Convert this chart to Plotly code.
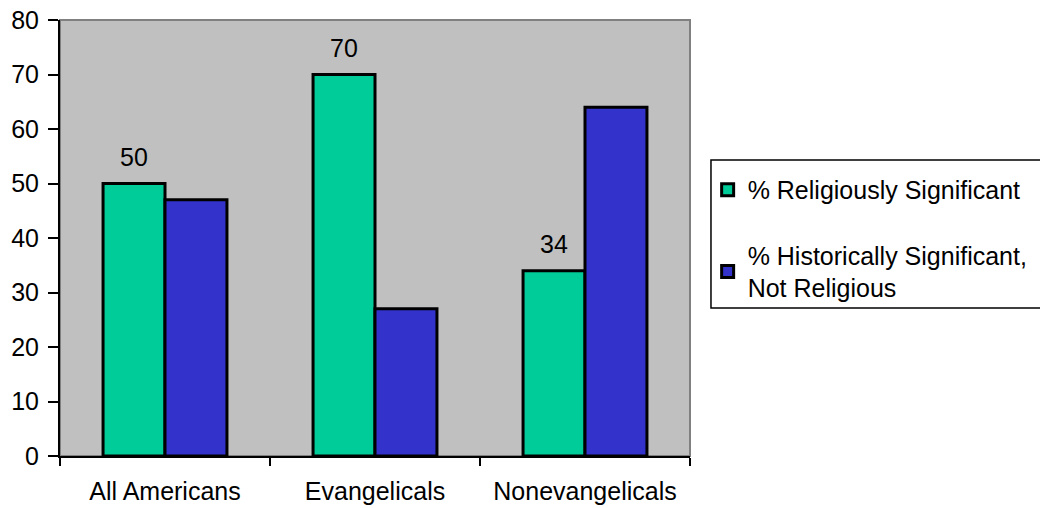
import plotly.graph_objects as go

# Survey results by group (percent)
groups = ["All Americans", "Evangelicals", "Nonevangelicals"]
religious = [50, 70, 34]
historical = [47, 27, 64]
series_names = ["% Religiously Significant", "% Historically Significant,<br>Not Religious"]

FONT = "Liberation Sans, Arial, sans-serif"
FS = 25

fig = go.Figure()
fig.add_trace(go.Bar(
    x=groups, y=religious, name=series_names[0], legendgroup="a",
    marker=dict(color="#00CC99", line=dict(color="black", width=3)),
))
fig.add_trace(go.Bar(
    x=groups, y=historical, name=series_names[1], legendgroup="b",
    marker=dict(color="#3333CC", line=dict(color="black", width=3)),
))

# value labels above the first series
for g, v in zip(groups, religious):
    fig.add_annotation(
        x=g, y=v, text=str(v), showarrow=False, xshift=-31, yshift=11,
        yanchor="bottom", font=dict(size=FS, color="black", family=FONT),
    )

# grey frame on the top and right of the plotting area
fig.add_shape(type="rect", xref="paper", yref="paper", x0=0, y0=0, x1=1, y1=1,
              line=dict(color="#808080", width=2), layer="below")

# legend frame
fig.add_shape(type="rect", xref="paper", yref="paper",
              x0=1.0333, y0=0.3394, x1=1.5635, y1=0.6789,
              line=dict(color="black", width=1.5), fillcolor="white", layer="below")

fig.update_layout(
    width=1040, height=508,
    margin=dict(l=60, r=350, t=20, b=52, autoexpand=False),
    paper_bgcolor="white", plot_bgcolor="#C0C0C0",
    barmode="group", bargap=0.41, bargroupgap=0,
    font=dict(family=FONT, size=FS, color="black"),
    showlegend=True,
    legend=dict(
        x=1.028, y=0.663, xanchor="left", yanchor="top",
        bgcolor="rgba(0,0,0,0)", borderwidth=0,
        font=dict(size=FS, family=FONT, color="black"),
        tracegroupgap=30, traceorder="grouped",
        itemwidth=30,
    ),
    xaxis=dict(
        showline=True, linecolor="black", linewidth=2,
        ticks="outside", tickson="boundaries", ticklen=8, tickcolor="black", tickwidth=1.5,
        tickfont=dict(size=FS, family=FONT), showgrid=False,
        ticklabelstandoff=12,
    ),
    yaxis=dict(
        range=[0, 80], dtick=10, showline=True, linecolor="black", linewidth=2,
        ticks="outside", ticklen=10, tickcolor="black", tickwidth=1.5,
        tickfont=dict(size=FS, family=FONT), showgrid=False, zeroline=False,
        ticklabelstandoff=4,
    ),
)

fig.write_html("out.html")
